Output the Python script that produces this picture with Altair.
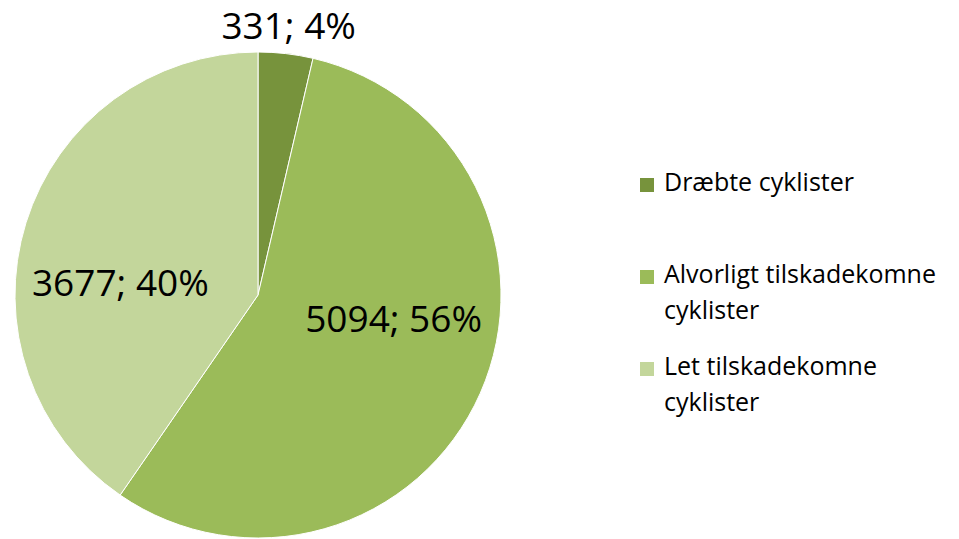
import altair as alt
import pandas as pd

categories = ["Dræbte cyklister", "Alvorligt tilskadekomne cyklister", "Let tilskadekomne cyklister"]
legend_lines = ["Dræbte cyklister", "Alvorligt tilskadekomne\ncyklister", "Let tilskadekomne\ncyklister"]
values = [331, 5094, 3677]
colors = ["#77933C", "#9BBB59", "#C3D69B"]

df = pd.DataFrame({
    "cat": categories,
    "legend": legend_lines,
    "value": values,
    "order": list(range(len(values))),
})

FONT = "Open Sans"
cx, cy, R = 250, 287, 243

base = alt.Chart(df).transform_joinaggregate(
    total="sum(value)"
).transform_calculate(
    label="datum.value + '; ' + format(datum.value / datum.total, '.0%')",
    lr="datum.value / datum.total < 0.1 ? 269 : 138",
)

color = alt.Color("cat:N", scale=alt.Scale(domain=categories, range=colors), legend=None)

arcs = base.mark_arc(stroke="white", strokeWidth=1).encode(
    theta=alt.Theta("value:Q", stack=True),
    order=alt.Order("order:Q"),
    color=color,
    x=alt.value(cx), y=alt.value(cy),
    radius=alt.value(R),
)

labels = base.mark_text(font=FONT, fontSize=37, color="black").encode(
    theta=alt.Theta("value:Q", stack=True),
    order=alt.Order("order:Q"),
    radius=alt.Radius("lr:Q", scale=None),
    text="label:N",
    x=alt.value(cx), y=alt.value(cy),
)

ypos = alt.Y("order:Q", scale=alt.Scale(domain=[0, 2], range=[177, 361]), axis=None)

leg_sq = alt.Chart(df).mark_square(size=196, opacity=1).encode(
    x=alt.value(639),
    y=ypos,
    color=color,
)
leg_tx = alt.Chart(df).mark_text(
    font=FONT, fontSize=25, align="left", baseline="top", lineBreak="\n", lineHeight=36, dy=-14,
    color="black"
).encode(
    x=alt.value(656),
    y=ypos,
    text="legend:N",
)

chart = alt.layer(arcs, labels, leg_sq, leg_tx).properties(
    width=943, height=531,
    autosize=alt.AutoSizeParams(type="none"),
    padding=0,
).configure_view(stroke=None)

chart.save("out.html", embed_options={"renderer": "svg", "actions": False})
